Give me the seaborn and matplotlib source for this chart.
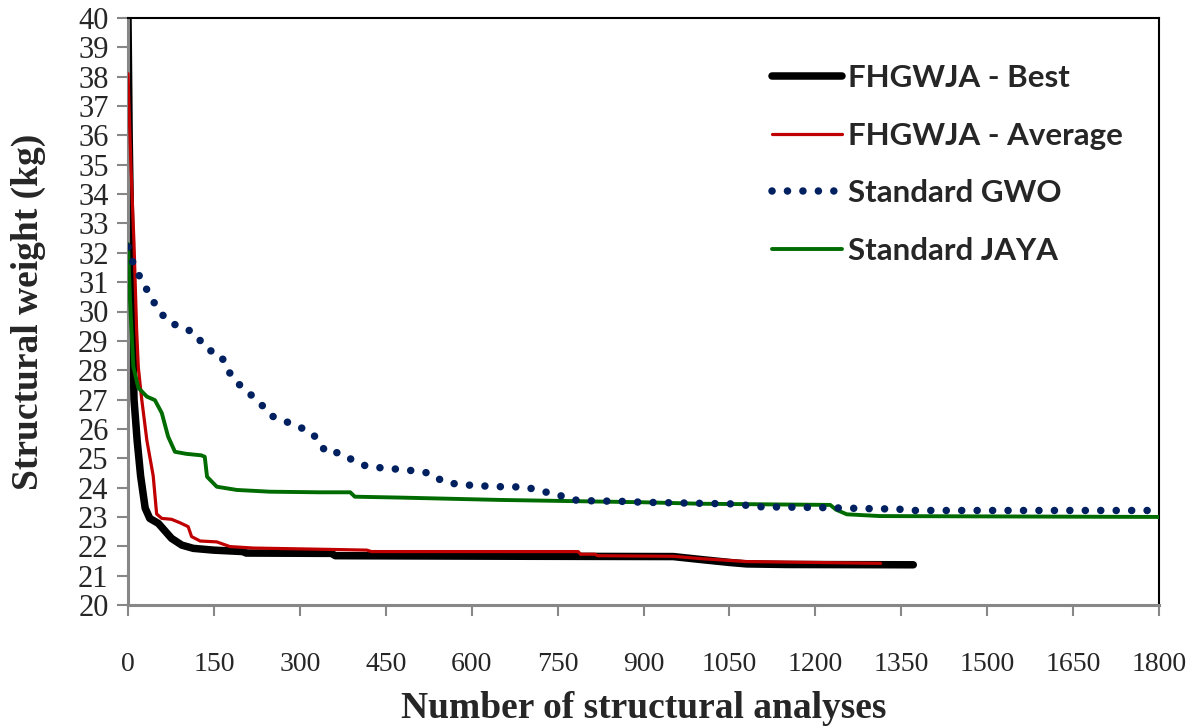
import matplotlib
matplotlib.use("Agg")
import matplotlib.pyplot as plt
import seaborn as sns
import pandas as pd

# Convergence histories (structural weight in kg vs. number of structural analyses)
best_x = [0, 2, 5, 8, 10.5, 16, 22, 30, 38, 53, 62, 76, 94, 114, 149, 201, 206,
          335, 355, 362, 700, 952, 1000, 1050, 1080, 1150, 1371]
best_y = [40, 36, 32.3, 29.4, 27.0, 25.6, 24.4, 23.3, 22.95, 22.78, 22.58, 22.27,
          22.04, 21.93, 21.87, 21.82, 21.77, 21.76, 21.76, 21.68, 21.66, 21.65,
          21.55, 21.45, 21.4, 21.38, 21.37]

avg_x = [0, 5, 10.5, 15, 18, 24, 33, 44, 50, 59, 76, 91, 105, 111, 126, 155, 178,
         219, 335, 417, 425, 786, 790, 815, 820, 952, 1000, 1080, 1314]
avg_y = [38.1, 35.0, 32.3, 29.4, 28.1, 27.0, 25.6, 24.4, 23.1, 22.95, 22.92, 22.8,
         22.67, 22.33, 22.18, 22.15, 21.99, 21.94, 21.9, 21.87, 21.82, 21.82, 21.73,
         21.73, 21.68, 21.66, 21.58, 21.48, 21.42]

gwo_x = [0, 8, 21, 35, 48, 67, 91, 115, 137, 162, 173, 185, 205, 230, 251, 277,
         302, 322, 338, 346, 369, 392, 415, 443, 469, 486, 513, 530, 550, 580, 600,
         626, 652, 693, 719, 745, 760, 783, 809, 863, 900, 1068, 1091, 1208, 1255,
         1300, 1345, 1360, 1800]
gwo_y = [32.2, 31.7, 31.16, 30.67, 30.22, 29.71, 29.46, 29.3, 28.72, 28.52, 28.06,
         27.67, 27.33, 26.89, 26.44, 26.24, 26.04, 25.85, 25.43, 25.19, 25.19, 24.94,
         24.74, 24.67, 24.63, 24.6, 24.54, 24.47, 24.2, 24.1, 24.08, 24.05, 24.03,
         24.02, 23.9, 23.77, 23.7, 23.57, 23.55, 23.53, 23.5, 23.44, 23.35, 23.32,
         23.3, 23.28, 23.27, 23.22, 23.22]

jaya_x = [0, 3.5, 9.3, 18, 33, 47, 59, 70, 82, 102, 128, 134, 138, 155, 190, 248,
          335, 388, 396, 475, 649, 900, 1000, 1226, 1236, 1255, 1313, 1800]
jaya_y = [32.3, 30.4, 28.12, 27.4, 27.1, 26.98, 26.54, 25.74, 25.22, 25.15, 25.1,
          25.05, 24.37, 24.03, 23.92, 23.86, 23.84, 23.84, 23.69, 23.66, 23.58, 23.5,
          23.45, 23.41, 23.25, 23.09, 23.03, 23.0]

labels = ["FHGWJA - Best", "FHGWJA - Average", "Standard GWO", "Standard JAYA"]
x_ticks = list(range(0, 1801, 150))
y_ticks = list(range(20, 41))

sns.set_theme(style="white")
plt.rcParams["font.family"] = ["Liberation Serif", "DejaVu Serif"]

fig = plt.figure(figsize=(11.99, 7.27), dpi=100)
ax = fig.add_axes([128 / 1199, 1 - 605 / 727, (1159 - 128) / 1199, (605 - 18) / 727])

series = {
    labels[0]: (best_x, best_y),
    labels[1]: (avg_x, avg_y),
    labels[2]: (gwo_x, gwo_y),
    labels[3]: (jaya_x, jaya_y),
}
frames = {k: pd.DataFrame({"x": v[0], "y": v[1]}) for k, v in series.items()}

styles = {
    labels[0]: dict(color="#000000", lw=5.4, zorder=2, solid_capstyle="round"),
    labels[1]: dict(color="#C00000", lw=2.3, zorder=3),
    labels[2]: dict(color="#002060", lw=5.4, zorder=5, linestyle=(0, (0.01, 2.05)),
                    dash_capstyle="round"),
    labels[3]: dict(color="#006B00", lw=2.8, zorder=4),
}

handles = {}
for name in labels:
    sns.lineplot(data=frames[name], x="x", y="y", ax=ax, sort=False,
                 estimator=None, label=name, **styles[name])
    handles[name] = ax.get_lines()[-1]

ax.set_xlim(0, 1800)
ax.set_ylim(20, 40)
ax.set_xticks(x_ticks)
ax.set_yticks(y_ticks)
ax.set_xticklabels([str(t) for t in x_ticks], family="Liberation Serif", fontsize=20)
ax.set_yticklabels([str(t) for t in y_ticks], family="Liberation Serif", fontsize=22)
ax.tick_params(axis="x", direction="out", length=8, width=1.5, color="#878787",
               pad=26, bottom=True)
ax.tick_params(axis="y", direction="out", length=8, width=1.5, color="#878787",
               pad=6, left=True)

for side in ("left", "bottom"):
    ax.spines[side].set_color("#878787")
    ax.spines[side].set_linewidth(2.2)
for side in ("top", "right"):
    ax.spines[side].set_color("#000000")
    ax.spines[side].set_linewidth(1.5)
ax.grid(False)

ax.set_xlabel("Number of structural analyses", family="Liberation Serif",
              fontweight="bold", fontsize=27, labelpad=10)
ax.set_ylabel("Structural weight (kg)", family="Liberation Serif",
              fontweight="bold", fontsize=27)
ax.yaxis.set_label_coords((46 - 128) / 1031, 0.5)

leg = ax.legend([handles[n] for n in labels], labels, loc="upper left",
                bbox_to_anchor=(772 / 1199, 1 - 64 / 727),
                bbox_transform=fig.transFigure, frameon=False,
                prop={"family": "Lato", "weight": "bold", "size": 22.5},
                handlelength=2.24, handletextpad=0.19, labelspacing=0.95,
                borderpad=0, borderaxespad=0)

fig.savefig("out.png", dpi=100)
